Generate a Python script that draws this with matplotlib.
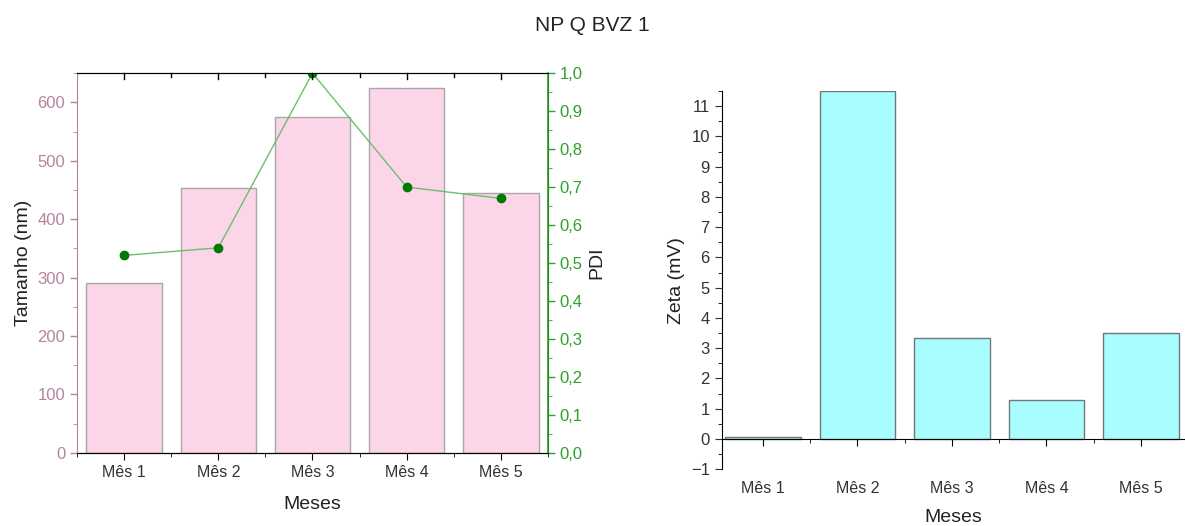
import numpy as np
import matplotlib
matplotlib.use('Agg')
import matplotlib.pyplot as plt
from matplotlib.ticker import MultipleLocator, FixedLocator, FuncFormatter

plt.rcParams['font.family'] = ['Liberation Sans', 'DejaVu Sans']

meses = ['Mês 1', 'Mês 2', 'Mês 3', 'Mês 4', 'Mês 5']
tamanho = [290, 453, 575, 625, 444]
pdi = [0.52, 0.54, 1.0, 0.70, 0.67]
zeta = [0.05, 11.5, 3.35, 1.3, 3.5]

x = np.arange(1, len(meses) + 1)
mauve = '#b4849f'
green = '#2ca02c'
txt = '#333333'

fig = plt.figure(figsize=(11.85, 5.26), dpi=100)
fig.suptitle('NP Q BVZ 1', y=0.97, fontsize=15, color='#222222')

# left: tamanho + PDI
ax1 = fig.add_axes([0.065, 0.139, 0.3974, 0.722])
ax1.bar(x, tamanho, width=0.8, color='#fdd5e8', edgecolor='#a8a8a8', linewidth=1)
ax1.set_xlim(0.5, 5.5)
ax1.set_ylim(0, 650)
ax1.set_xticks(x)
ax1.set_xticklabels(meses, fontsize=11.5, color=txt)
ax1.xaxis.set_minor_locator(FixedLocator(np.arange(0.5, 6, 1)))
ax1.yaxis.set_major_locator(MultipleLocator(100))
ax1.yaxis.set_minor_locator(MultipleLocator(50))
ax1.tick_params(axis='y', colors=mauve, labelsize=12, length=5, width=1)
ax1.tick_params(axis='y', which='minor', colors=mauve, length=3)
ax1.tick_params(axis='x', which='both', direction='out', length=5, color='k', top=False)
ax1.tick_params(axis='x', which='minor', length=3)
ax1.spines['left'].set_color(mauve)
ax1.set_ylabel('Tamanho (nm)', fontsize=14, color='#222222')
ax1.set_xlabel('Meses', fontsize=14, color='#222222', labelpad=12)

ax1b = ax1.twinx()
ax1b.plot(x, pdi, color='#6cbf6c', linewidth=1, marker='o', markersize=6,
          markerfacecolor='#007a00', markeredgecolor='#007a00')
ax1b.set_ylim(0, 1.0)
ax1b.yaxis.set_major_locator(MultipleLocator(0.1))
ax1b.yaxis.set_minor_locator(MultipleLocator(0.05))
ax1b.yaxis.set_major_formatter(FuncFormatter(lambda v, p: f'{v:.1f}'.replace('.', ',')))
ax1b.tick_params(axis='y', colors=green, labelsize=12, length=5, width=1)
ax1b.tick_params(axis='y', which='minor', colors=green, length=3)
ax1b.spines['right'].set_color(green)
ax1b.spines['right'].set_linewidth(1.2)
ax1b.spines['left'].set_visible(False)
ax1b.set_ylabel('PDI', fontsize=14, color='#222222')
# inward ticks on the top spine
for xt in x:
    ax1b.plot([xt, xt], [1.0, 0.985], color='k', linewidth=1, clip_on=False)
for xt in np.arange(1.5, 5.5, 1):
    ax1b.plot([xt, xt], [1.0, 0.99], color='k', linewidth=1, clip_on=False)

# right: zeta
ax2 = fig.add_axes([0.609, 0.108, 0.391, 0.719])
ax2.bar(x, zeta, width=0.8, color='#a8fefe', edgecolor='#707878', linewidth=1)
ax2.set_xlim(0.565, 5.465)
ax2.set_ylim(-1, 11.5)
ax2.spines['top'].set_visible(False)
ax2.spines['right'].set_visible(False)
ax2.spines['bottom'].set_position(('data', 0))
ax2.set_xticks(x)
ax2.set_xticklabels(meses, fontsize=11.5, color=txt)
ax2.xaxis.set_minor_locator(FixedLocator(np.arange(0.5, 6, 1)))
ax2.yaxis.set_major_locator(MultipleLocator(1))
ax2.yaxis.set_minor_locator(MultipleLocator(0.5))
ax2.yaxis.set_major_formatter(FuncFormatter(lambda v, p: f'{v:.0f}'.replace('-', '\u2212')))
ax2.tick_params(axis='y', labelsize=12, colors=txt, length=5)
ax2.tick_params(axis='y', which='minor', length=3)
ax2.tick_params(axis='x', length=5, pad=25)
ax2.tick_params(axis='x', which='minor', length=3)
ax2.set_ylabel('Zeta (mV)', fontsize=14, color='#222222')
ax2.set_xlabel('Meses', fontsize=14, color='#222222')
ax2.xaxis.set_label_coords(0.5, -0.105)

fig.savefig('out.png', dpi=100)
